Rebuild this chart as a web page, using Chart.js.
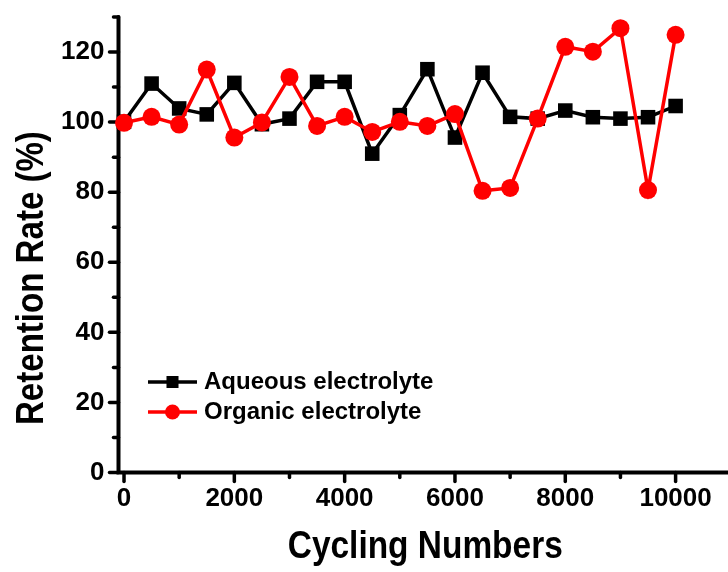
<!DOCTYPE html>
<html>
<head>
<meta charset="utf-8">
<script src="https://cdn.jsdelivr.net/npm/chart.js@4/dist/chart.umd.min.js"></script>
<style>
  html, body { margin: 0; padding: 0; background: #fff; }
  #wrap { width: 728px; height: 572px; }
</style>
</head>
<body>
<div id="wrap"><canvas id="c" width="728" height="572"></canvas></div>
<script>
// Capacitance retention over charge/discharge cycles
const cycles = [0, 500, 1000, 1500, 2000, 2500, 3000, 3500, 4000, 4500, 5000,
                5500, 6000, 6500, 7000, 7500, 8000, 8500, 9000, 9500, 10000];
const aqueous = [100.1, 111.0, 103.9, 102.2, 111.2, 99.4, 101.0, 111.5, 111.5, 91.0, 102.0,
                 115.1, 95.6, 114.1, 101.5, 101.0, 103.3, 101.4, 101.0, 101.4, 104.6];
const organic = [99.8, 101.5, 99.3, 115.0, 95.6, 99.9, 112.9, 98.9, 101.5, 97.2, 100.1,
                 98.9, 102.3, 80.4, 81.2, 101.0, 121.5, 120.1, 126.8, 80.6, 124.9];
const seriesNames = ['Aqueous electrolyte', 'Organic electrolyte'];

const xMajorTicks = [0, 2000, 4000, 6000, 8000, 10000];
const xMinorTicks = [1000, 3000, 5000, 7000, 9000];
const yMajorTicks = [0, 20, 40, 60, 80, 100, 120];
const yMinorTicks = [10, 30, 50, 70, 90, 110, 130];
const xTitle = 'Cycling Numbers';
const yTitle = 'Retention Rate (%)';

const FONT = '"Liberation Sans", Arial, Helvetica, sans-serif';

const toPoints = (xs, ys) => xs.map((x, i) => ({ x, y: ys[i] }));

// keep the plot box fixed: no extra room reserved for edge labels
const noEdgePadding = s => {
  s.paddingTop = 0; s.paddingBottom = 0; s.paddingLeft = 0; s.paddingRight = 0;
};

// Axis lines with outward major/minor tick marks, titles and legend
const axesPlugin = {
  id: 'originAxes',
  beforeDatasetsDraw(chart) {
    const { ctx } = chart;
    const xs = chart.scales.x, ys = chart.scales.y;
    const x0 = xs.left, y0 = ys.bottom;
    ctx.save();
    ctx.strokeStyle = '#000';
    ctx.lineCap = 'round';
    ctx.lineWidth = 4;
    ctx.beginPath();
    ctx.moveTo(x0, ys.getPixelForValue(ys.max));
    ctx.lineTo(x0, y0);
    ctx.lineTo(xs.right, y0);
    ctx.stroke();
    ctx.lineWidth = 3.5;
    ctx.lineCap = 'round';
    const tick = (a, b, c, d) => { ctx.beginPath(); ctx.moveTo(a, b); ctx.lineTo(c, d); ctx.stroke(); };
    yMajorTicks.forEach(v => { const p = ys.getPixelForValue(v); tick(x0, p, x0 - 9, p); });
    yMinorTicks.forEach(v => { const p = ys.getPixelForValue(v); tick(x0, p, x0 - 5, p); });
    xMajorTicks.forEach(v => { const p = xs.getPixelForValue(v); tick(p, y0, p, y0 + 9); });
    xMinorTicks.forEach(v => { const p = xs.getPixelForValue(v); tick(p, y0, p, y0 + 5); });
    ctx.restore();
  },
  afterDraw(chart) {
    const { ctx } = chart;
    const xs = chart.scales.x;
    ctx.save();
    ctx.fillStyle = '#000';
    ctx.font = 'bold 38px ' + FONT;
    // x-axis title
    ctx.save();
    ctx.translate((xs.left + xs.right) / 2 + 2, 558);
    ctx.scale(0.88, 1);
    ctx.textAlign = 'center';
    ctx.textBaseline = 'alphabetic';
    ctx.fillText(xTitle, 0, 0);
    ctx.restore();
    // y-axis title
    ctx.save();
    ctx.translate(43, 425);
    ctx.rotate(-Math.PI / 2);
    ctx.scale(0.87, 1);
    ctx.textAlign = 'left';
    ctx.textBaseline = 'alphabetic';
    ctx.fillText(yTitle, 0, 0);
    ctx.restore();

    // legend: line + marker + label
    const rows = [382, 412];
    chart.data.datasets.forEach((ds, i) => {
      const y = rows[i];
      ctx.strokeStyle = ds.borderColor;
      ctx.lineWidth = ds.borderWidth;
      ctx.lineCap = 'butt';
      ctx.beginPath();
      ctx.moveTo(148, y);
      ctx.lineTo(197, y);
      ctx.stroke();
      ctx.fillStyle = ds.pointBackgroundColor;
      Chart.helpers.drawPoint(ctx, {
        pointStyle: ds.pointStyle,
        radius: ds.pointStyle === 'rect' ? 8.5 : 7.5,
        borderWidth: 0
      }, 172.5, y);
      ctx.fillStyle = '#000';
      ctx.font = 'bold 24px ' + FONT;
      ctx.textAlign = 'left';
      ctx.textBaseline = 'alphabetic';
      ctx.fillText(ds.label, 204, y + 7);
    });
    ctx.restore();
  }
};

new Chart(document.getElementById('c'), {
  type: 'line',
  data: {
    datasets: [
      {
        label: seriesNames[0],
        data: toPoints(cycles, aqueous),
        borderColor: '#000000',
        backgroundColor: '#000000',
        pointBackgroundColor: '#000000',
        pointBorderWidth: 0,
        pointStyle: 'rect',
        pointRadius: 10.3,
        borderWidth: 3.5,
        tension: 0,
        clip: false,
        order: 1
      },
      {
        label: seriesNames[1],
        data: toPoints(cycles, organic),
        borderColor: '#ff0000',
        backgroundColor: '#ff0000',
        pointBackgroundColor: '#ff0000',
        pointBorderWidth: 0,
        pointStyle: 'circle',
        pointRadius: 9,
        borderWidth: 3.5,
        tension: 0,
        clip: false,
        order: 0
      }
    ]
  },
  options: {
    responsive: false,
    animation: false,
    devicePixelRatio: 1,
    layout: { autoPadding: false, padding: { top: 17, right: 0, left: 0, bottom: 0 } },
    plugins: {
      legend: { display: false },
      tooltip: { enabled: false },
      title: { display: false }
    },
    scales: {
      x: {
        type: 'linear',
        min: -100,
        max: 10950,
        afterBuildTicks: s => { s.ticks = xMajorTicks.map(v => ({ value: v })); },
        afterFit: s => { s.height = 99.5; noEdgePadding(s); },
        grid: { display: false, drawTicks: false },
        border: { display: false },
        ticks: {
          padding: 11,
          color: '#000',
          maxRotation: 0,
          autoSkip: false,
          font: { family: FONT, size: 26, weight: 'bold' },
          callback: v => String(v)
        }
      },
      y: {
        type: 'linear',
        min: 0,
        max: 130,
        afterBuildTicks: s => { s.ticks = yMajorTicks.map(v => ({ value: v })); },
        afterFit: s => { s.width = 118.5; noEdgePadding(s); },
        grid: { display: false, drawTicks: false },
        border: { display: false },
        ticks: {
          padding: 14,
          color: '#000',
          autoSkip: false,
          font: { family: FONT, size: 26, weight: 'bold' },
          callback: v => String(v)
        }
      }
    }
  },
  plugins: [axesPlugin]
});
</script>
</body>
</html>
